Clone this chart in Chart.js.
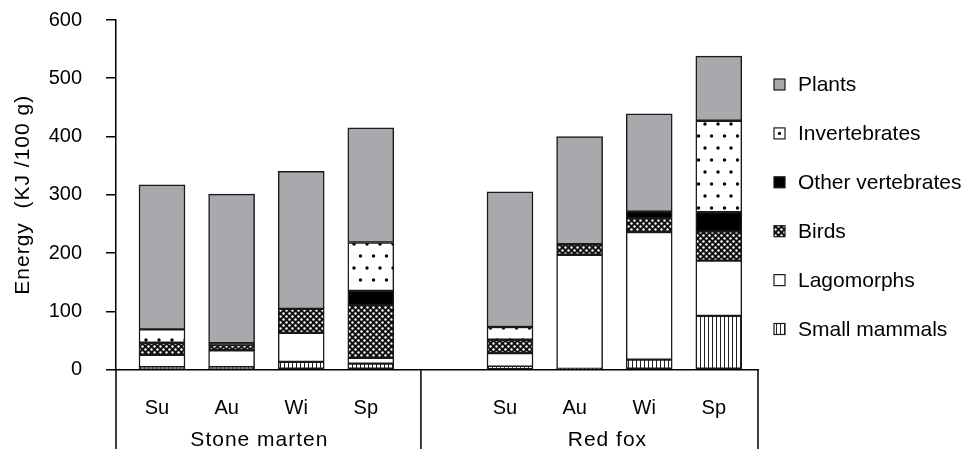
<!DOCTYPE html>
<html>
<head>
<meta charset="utf-8">
<script src="https://cdn.jsdelivr.net/npm/chart.js@4/dist/chart.umd.min.js"></script>
<style>
html,body{margin:0;padding:0;background:#fff;}
#wrap{width:963px;height:449px;}
canvas{display:block;}
</style>
</head>
<body>
<div id="wrap"><canvas id="c" width="963" height="449"></canvas></div>
<script>
// ---- data ----
const seasons = ['Su', 'Au', 'Wi', 'Sp'];
const groups = ['Stone marten', 'Red fox'];
const seriesNames = ['Small mammals', 'Lagomorphs', 'Birds', 'Other vertebrates', 'Invertebrates', 'Plants'];
// values per bar: Stone marten Su,Au,Wi,Sp then Red fox Su,Au,Wi,Sp
const smallMammals     = [4, 4, 13, 10,   5, 1, 17, 92];
const lagomorphs       = [21, 29, 50, 10, 23, 196, 219, 95];
const birds            = [21, 9, 41, 91,  23, 18, 24, 50];
const otherVertebrates = [0, 3, 0, 24,    0, 0, 11, 33];
const invertebrates    = [23, 0, 0, 83,   22, 0, 0, 157];
const plants           = [248, 256, 236, 197, 232, 185, 168, 111];
const yTicks = [0, 100, 200, 300, 400, 500, 600];
const yTitle = 'Energy  (KJ /100 g)';

// ---- patterns ----
function makeTile(w, h, draw) {
  const c = document.createElement('canvas');
  c.width = w; c.height = h;
  const x = c.getContext('2d');
  draw(x);
  return c;
}
const ctx0 = document.getElementById('c').getContext('2d');
const dotsTile = makeTile(13, 24, g => {
  g.fillStyle = '#fff'; g.fillRect(0, 0, 13, 24);
  g.fillStyle = '#000';
  g.beginPath(); g.arc(3, 4, 1.7, 0, Math.PI * 2); g.fill();
  g.beginPath(); g.arc(9.5, 16, 1.7, 0, Math.PI * 2); g.fill();
});
const crossTile = makeTile(6, 6, g => {
  g.fillStyle = '#111'; g.fillRect(0, 0, 6, 6);
  g.fillStyle = '#fff';
  g.beginPath(); g.arc(1.5, 1.5, 1.2, 0, Math.PI * 2); g.fill();
  g.beginPath(); g.arc(4.5, 4.5, 1.2, 0, Math.PI * 2); g.fill();
});
const vlineTile = makeTile(4, 2, g => {
  g.fillStyle = '#fff'; g.fillRect(0, 0, 4, 2);
  g.fillStyle = '#222'; g.fillRect(0, 0, 1, 2);
});
const fills = [
  ctx0.createPattern(vlineTile, 'repeat'),
  '#ffffff',
  ctx0.createPattern(crossTile, 'repeat'),
  '#000000',
  ctx0.createPattern(dotsTile, 'repeat'),
  '#a8a9ac'
];
const seriesValues = [smallMammals, lagomorphs, birds, otherVertebrates, invertebrates, plants];

// x positions derived from the category order (one empty slot between groups)
const xPos = [];
groups.forEach((g, gi) => seasons.forEach((s, si) => xPos.push(gi * (seasons.length + 1) + si + 1)));
const xLabels = [];
groups.forEach(() => seasons.forEach(s => xLabels.push(s)));

const datasets = seriesNames.map((name, k) => ({
  label: name,
  data: seriesValues[k].map((v, i) => ({x: xPos[i], y: v})),
  backgroundColor: fills[k],
  borderColor: '#1a1a1a',
  borderWidth: 1.5,
  borderSkipped: false,
  barThickness: 46,
  stack: 'all'
}));

const FONT = "'Liberation Sans', Arial, sans-serif";
const DIVIDER_AT = 4.72;

const decor = {
  id: 'decor',
  afterDraw(chart) {
    const {ctx, chartArea} = chart;
    const xs = chart.scales.x;
    const H = chart.height;
    ctx.save();
    ctx.strokeStyle = '#000';
    ctx.lineWidth = 1.5;
    // vertical box lines below the axis
    const vx = [chartArea.left, xs.getPixelForValue(DIVIDER_AT), chartArea.right];
    vx.forEach(x => {
      ctx.beginPath(); ctx.moveTo(x, chartArea.bottom); ctx.lineTo(x, H); ctx.stroke();
    });
    // group labels
    ctx.fillStyle = '#000';
    ctx.font = '21px ' + FONT;
    ctx.letterSpacing = '1px';
    ctx.textAlign = 'center';
    ctx.textBaseline = 'middle';
    groups.forEach((g, gi) => {
      const a = xs.getPixelForValue(xPos[gi * seasons.length]);
      const b = xs.getPixelForValue(xPos[gi * seasons.length + seasons.length - 1]);
      ctx.fillText(g, (a + b) / 2 - 7, 440);
    });
    // y title
    ctx.save();
    ctx.translate(23, (chartArea.top + chartArea.bottom) / 2);
    ctx.rotate(-Math.PI / 2);
    ctx.fillText(yTitle, 0, 0);
    ctx.restore();
    // legend (top item = last series)
    ctx.letterSpacing = '0px';
    ctx.textAlign = 'left';
    ctx.font = '21px ' + FONT;
    for (let j = 0; j < seriesNames.length; j++) {
      const k = seriesNames.length - 1 - j;
      const cy = 84.5 + j * 48.9;
      const bx = 774, by = cy - 5.5, bs = 11;
      ctx.fillStyle = (k === 4) ? '#fff' : fills[k];
      ctx.fillRect(bx, by, bs, bs);
      if (k === 4) {
        ctx.fillStyle = '#000';
        ctx.beginPath(); ctx.arc(bx + bs / 2, by + bs / 2, 1.6, 0, Math.PI * 2); ctx.fill();
      }
      ctx.lineWidth = 1.2;
      ctx.strokeStyle = '#1a1a1a';
      ctx.strokeRect(bx, by, bs, bs);
      ctx.fillStyle = '#000';
      ctx.fillText(seriesNames[k], 798, cy + 1);
    }
    ctx.restore();
  }
};

new Chart(document.getElementById('c'), {
  type: 'bar',
  data: {datasets},
  options: {
    responsive: false,
    animation: false,
    devicePixelRatio: 1,
    layout: {padding: {top: 20, right: 205, left: 0, bottom: 0}},
    plugins: {legend: {display: false}, tooltip: {enabled: false}},
    scales: {
      x: {
        type: 'linear',
        offset: false,
        min: 0.339,
        max: 9.563,
        grid: {display: false},
        border: {display: true, color: '#000', width: 1.5},
        afterBuildTicks(scale) { scale.ticks = xPos.map(v => ({value: v})); },
        afterFit(scale) { scale.height = 79.5; scale.paddingLeft = 0; scale.paddingRight = 0; },
        ticks: {
          color: '#000',
          font: {family: FONT, size: 20},
          padding: 18.5,
          labelOffset: -5,
          maxRotation: 0,
          autoSkip: false,
          callback: (v, i) => xLabels[i]
        }
      },
      y: {
        stacked: true,
        min: 0,
        max: 600,
        afterBuildTicks(scale) { scale.ticks = yTicks.map(v => ({value: v})); },
        afterFit(scale) { scale.width = 116; scale.paddingTop = 0; scale.paddingBottom = 0; },
        grid: {display: true, drawOnChartArea: false, drawTicks: true, tickLength: 10, color: '#000', lineWidth: 1.5},
        border: {display: true, color: '#000', width: 1.5},
        ticks: {color: '#000', font: {family: FONT, size: 20}, padding: 24}
      }
    }
  },
  plugins: [decor]
});
</script>
</body>
</html>
